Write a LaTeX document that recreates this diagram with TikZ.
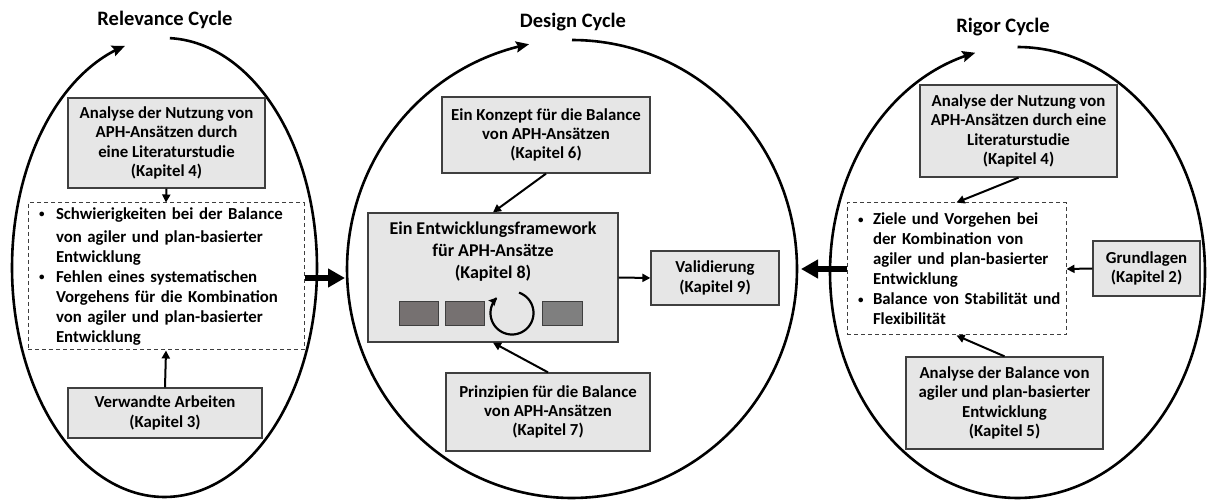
\documentclass[tikz,border=0pt]{standalone}
\usepackage{fontspec}
\setmainfont{Carlito}
\usetikzlibrary{arrows.meta}
\definecolor{boxfill}{HTML}{E6E6E6}
\definecolor{boxline}{HTML}{3F3F3F}
\definecolor{darkrect}{HTML}{767171}
\definecolor{midrect}{HTML}{7F7F7F}
% bullet item with hanging indent #1 and bullet offset #2;
% lines inside an item are broken with \newline
\newcommand{\bitem}[2]{\hangindent=#1\hangafter=1\noindent\makebox[#1][l]{\hspace{#2}\raisebox{1.5pt}{\fontsize{11}{11}\selectfont\textbullet}}}
\begin{document}
\begin{tikzpicture}[x=1pt,y=-1pt,
  chapter/.style={draw=boxline, fill=boxfill, line width=1.3pt, align=center,
    inner sep=0pt, font=\bfseries\fontsize{16.8}{19.4}\selectfont},
  notes/.style={draw=boxline, dash pattern=on 4pt off 3pt, line width=1pt,
    inner ysep=0pt, align=left, font=\bfseries\fontsize{16.8}{20}\selectfont},
  tile/.style={draw=boxline, line width=1pt, minimum width=39pt, minimum height=24pt, inner sep=0pt},
  cyclearc/.style={line width=2.6pt, -{Stealth[length=13pt,width=11pt,inset=2pt]}},
  link/.style={line width=2pt, -{Triangle[length=8pt,width=8pt]}},
  bigarrow/.style={line width=6pt, -{Triangle[length=17pt,width=18pt]}},
  cycletitle/.style={font=\bfseries\fontsize{20.5}{24}\selectfont}]
\useasboundingbox (0,0) rectangle (1207,502);

% ---- cycle outlines ----
\draw[cyclearc] plot[domain=-88:255, samples=240]
  ({164.5+152.5*cos(\x)}, {267.5+229.5*sin(\x)});
\draw[cyclearc] plot[domain=-90:259, samples=240]
  ({572+225*cos(\x)}, {269+229*sin(\x)});
\draw[cyclearc] plot[domain=-90:257, samples=240]
  ({1017.5+187.5*cos(\x)}, {272.5+225.5*sin(\x)});

\node[cycletitle] (trel) at (165,20) {Relevance Cycle};
\node[cycletitle] (tdes) at (573,22) {Design Cycle};
\node[cycletitle] (trig) at (1003,27) {Rigor Cycle};

% ---- relevance cycle ----
\node[chapter, minimum width=197pt, minimum height=90pt] (l4) at (166.5,143)
  {Analyse der Nutzung von\\APH-Ansätzen durch\\eine Literaturstudie\\(Kapitel 4)};
\node[notes, text width=262pt, inner xsep=7pt, minimum height=147pt] (lnotes) at (166,276.5)
  {\vspace*{3pt}\bitem{21pt}{4pt}Schwierigkeiten bei der Balance\newline von agiler und plan-basierter\newline Entwicklung\par
   \bitem{21pt}{4pt}Fehlen eines systematischen\newline Vorgehens für die Kombination\newline von agiler und plan-basierter\newline Entwicklung\par};
\node[chapter, minimum width=194pt, minimum height=50pt] (l3) at (165,413)
  {Verwandte Arbeiten\\(Kapitel 3)};
\draw[link] (l4.south) -- (lnotes.north);
\draw[link] (l3.north) -- (lnotes.south);

% ---- design cycle ----
\node[chapter, minimum width=208pt, minimum height=76pt] (c6) at (546,135)
  {Ein Konzept für die Balance\\von APH-Ansätzen\\(Kapitel 6)};
\node[chapter, minimum width=250pt, minimum height=129pt] (c8) at (493,277.5) {};
\node[font=\bfseries\fontsize{18}{22}\selectfont, align=center] (c8text) at (493,252)
  {Ein Entwicklungsframework\\für APH-Ansätze\\(Kapitel 8)};
\node[tile, fill=darkrect] (t1) at (418.5,314) {};
\node[tile, fill=darkrect] (t2) at (464.5,314) {};
\node[tile, fill=midrect, minimum width=40pt] (t3) at (562,314) {};
\coordinate (loop) at (512,313);
\draw[line width=2.2pt, -{Stealth[length=8pt,width=8pt,inset=1pt]}]
  plot[domain=-71:226, samples=120] ({512+21.5*cos(\x)}, {313+21.5*sin(\x)});
\node[chapter, minimum width=128pt, minimum height=54pt] (v9) at (715,278)
  {Validierung\\(Kapitel 9)};
\node[chapter, minimum width=204pt, minimum height=78pt] (c7) at (548,412)
  {Prinzipien für die Balance\\von APH-Ansätzen\\(Kapitel 7)};
\draw[link] (c6.south) -- (c8.north);
\draw[link] (c7.north) -- (c8.south);
\draw[link] (c8.east) -- (v9.west);

% ---- rigor cycle ----
\node[chapter, minimum width=197pt, minimum height=92pt] (r4) at (1018.5,131)
  {Analyse der Nutzung von\\APH-Ansätzen durch eine\\Literaturstudie\\(Kapitel 4)};
\node[notes, text width=213pt, inner xsep=3pt, minimum height=132pt] (rnotes) at (956.5,269)
  {\bitem{23pt}{8pt}Ziele und Vorgehen bei\newline der Kombination von\newline agiler und plan-basierter\newline Entwicklung\par
   \bitem{23pt}{8pt}Balance von Stabilität und\newline Flexibilität\par};
\node[chapter, minimum width=107pt, minimum height=55pt] (r2) at (1146.5,268.5)
  {Grundlagen\\(Kapitel 2)};
\node[chapter, minimum width=197pt, minimum height=92pt] (r5) at (1004.5,403)
  {Analyse der Balance von\\agiler und plan-basierter\\Entwicklung\\(Kapitel 5)};
\draw[link] (r4.south) -- (rnotes.north);
\draw[link] (r2.west) -- (rnotes.east);
\draw[link] (r5.north) -- (rnotes.south);

% ---- hand-over between the cycles ----
\coordinate (designleft) at (345,278);
\coordinate (designright) at (801,269);
\draw[bigarrow] (lnotes.east |- designleft) -- (designleft);
\draw[bigarrow] (rnotes.west |- designright) -- (designright);
\end{tikzpicture}
\end{document}
